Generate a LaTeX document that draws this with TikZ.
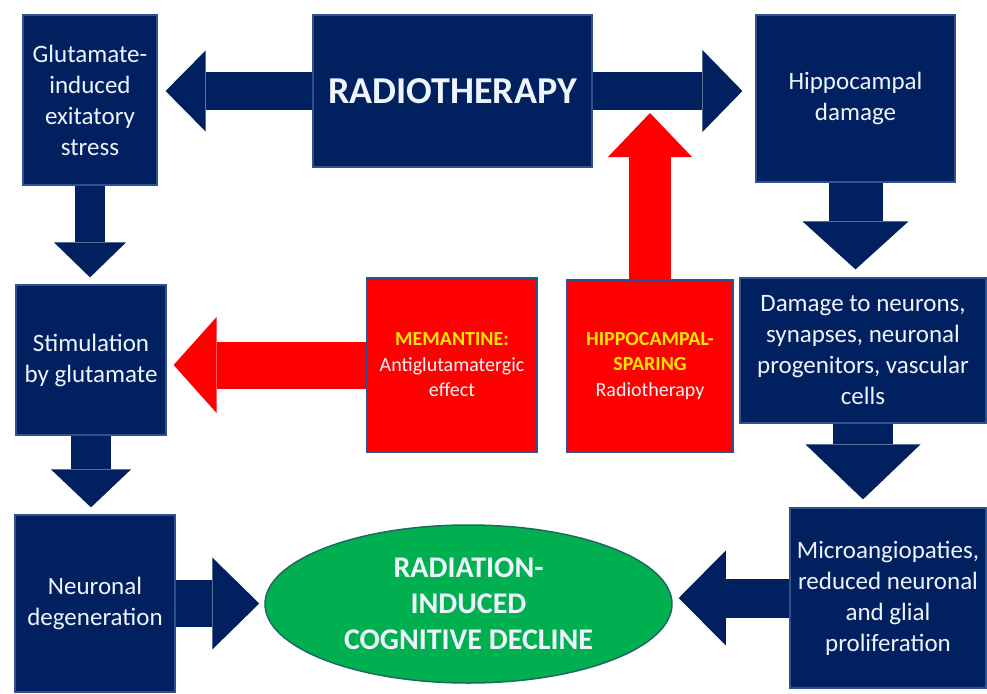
\documentclass[tikz,border=0pt]{standalone}
\usepackage{fontspec}
\setmainfont{Carlito}
\usetikzlibrary{arrows.meta,shapes.geometric}
\definecolor{navy}{RGB}{0,32,96}
\definecolor{edgeblue}{RGB}{47,82,143}
\definecolor{alarmred}{RGB}{255,0,0}
\definecolor{leafgreen}{RGB}{0,176,80}
\definecolor{leafedge}{RGB}{30,105,95}
\definecolor{signyellow}{RGB}{255,230,0}
\definecolor{paletext}{RGB}{238,244,252}

\begin{document}
\begin{tikzpicture}[x=1pt,y=-1pt,
        navybox/.style={draw=edgeblue,line width=1.2pt,fill=navy,text=paletext,align=center,inner sep=0pt,font=\fontsize{25}{31}\selectfont},
        redbox/.style={navybox,fill=alarmred,font=\fontsize{20}{25.5}\selectfont},
        navyarrow/.style n args={3}{draw=navy,line width=#1,-{Triangle[width=#2,length=#3,line width=0pt]}},
        redarrow/.style n args={3}{navyarrow={#1}{#2}{#3},draw=alarmred}]
        \useasboundingbox (0,0) rectangle (987,693);
        \node[navybox,minimum width=134pt,minimum height=170pt] (glu) at (90,100) {Glutamate-\\induced\\exitatory\\stress};
        \node[navybox,minimum width=279pt,minimum height=152pt,font=\bfseries\fontsize{38}{46}\selectfont] (radio) at (452.5,91) {RADIOTHERAPY};
        \node[navybox,minimum width=199pt,minimum height=167pt] (hippo) at (855.5,98.5) {Hippocampal\\damage};
        \node[navybox,minimum width=150pt,minimum height=150pt] (stim) at (91,360) {Stimulation\\by glutamate};
        \node[redbox,minimum width=170pt,minimum height=174pt] (mem) at (452,365) {\textcolor{signyellow}{\textbf{MEMANTINE:}}\\Antiglutamatergic\\effect};
        \node[redbox,minimum width=166pt,minimum height=172pt] (spare) at (650,366) {\textcolor{signyellow}{\textbf{HIPPOCAMPAL-}}\\\textcolor{signyellow}{\textbf{SPARING}}\\Radiotherapy};
        \node[navybox,minimum width=246pt,minimum height=145pt] (damage) at (863,350.5) {Damage to neurons,\\synapses, neuronal\\progenitors, vascular\\cells};
        \node[navybox,minimum width=160pt,minimum height=177pt] (neur) at (95,603.5) {Neuronal\\degeneration};
        \node[navybox,minimum width=196pt,minimum height=180pt] (micro) at (888,598) {Microangiopaties,\\reduced neuronal\\and glial\\proliferation};
        \node[ellipse,draw=leafedge,line width=1.5pt,fill=leafgreen,text=paletext,align=center,inner sep=0pt,minimum width=407pt,minimum height=158pt,font=\bfseries\fontsize{30}{36}\selectfont] (decline) at (468.5,604) {RADIATION-\\INDUCED\\COGNITIVE DECLINE};
        \draw[navyarrow={38pt}{81pt}{40pt},shorten >=8pt] (radio.west) -- (radio.west -| glu.east);
        \draw[navyarrow={38pt}{82pt}{40pt},shorten >=13pt] (radio.east) -- (radio.east -| hippo.west);
        \draw[navyarrow={30pt}{72pt}{35pt},shorten >=7pt] (glu.south) -- (glu.south |- stim.north);
        \draw[navyarrow={40pt}{80pt}{38pt},shorten >=7pt] (stim.south) -- (stim.south |- neur.north);
        \draw[navyarrow={54pt}{106pt}{48pt},shorten >=8pt] (hippo.south) -- (hippo.south |- damage.north);
        \draw[navyarrow={60pt}{115pt}{55pt},shorten >=8pt] (damage.south) -- (damage.south |- micro.north);
        \draw[navyarrow={47pt}{92pt}{47pt},shorten >=5pt] (neur.east) -- (neur.east -| decline.west);
        \draw[navyarrow={39pt}{95pt}{47pt},shorten >=6pt] (micro.west) -- (micro.west -| decline.east);
        \draw[redarrow={47pt}{96pt}{43pt},shorten >=7pt] (mem.west) -- (mem.west -| stim.east);
        \draw[redarrow={42pt}{84pt}{44pt},shorten >=22pt] (spare.north) -- (spare.north |- radio.east);
\end{tikzpicture}
\end{document}
